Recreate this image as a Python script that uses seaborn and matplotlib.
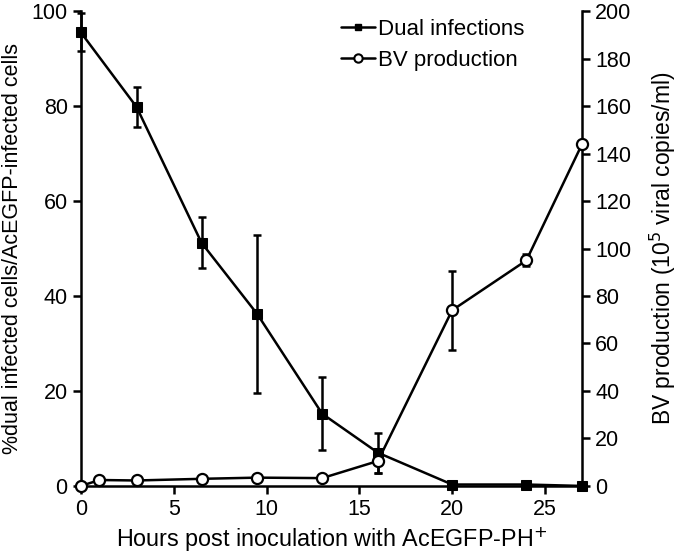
import numpy as np
import pandas as pd
import matplotlib
matplotlib.use("Agg")
import matplotlib.pyplot as plt
from matplotlib.lines import Line2D
import seaborn as sns

# data
hours = [0, 3, 6.5, 9.5, 13, 16, 20, 24, 27]
dual_pct = [95.5, 79.8, 51.2, 36.2, 15.2, 7.0, 0.3, 0.3, 0.0]
dual_err = [4.0, 4.2, 5.4, 16.6, 7.7, 4.2, 0.0, 0.0, 0.0]

bv_hours = [0, 1, 3, 6.5, 9.5, 13, 16, 20, 24, 27]
bv_copies = [0.0, 2.5, 2.3, 3.0, 3.5, 3.3, 10.5, 74.0, 95.0, 144.0]
bv_err = [0.0, 0.0, 0.0, 0.0, 0.0, 0.0, 5.0, 16.7, 2.5, 0.0]

sns.set_theme(style="ticks")
plt.rcParams['font.family'] = ['Liberation Sans', 'DejaVu Sans']
plt.rcParams['font.size'] = 15.5
plt.rcParams['axes.labelcolor'] = 'black'
plt.rcParams['text.color'] = 'black'
fs = 15.5

fig = plt.figure(figsize=(6.8, 5.56), dpi=100)
ax = fig.add_axes([0.119, 0.126, 0.737, 0.854])
ax2 = ax.twinx()

dual_df = pd.DataFrame({'h': hours, 'v': dual_pct})
bv_df = pd.DataFrame({'h': bv_hours, 'v': bv_copies})

ax.errorbar(hours, dual_pct, yerr=dual_err, fmt='none', ecolor='black',
            elinewidth=1.8, capsize=3, capthick=1.8, clip_on=False, zorder=3)
sns.lineplot(data=dual_df, x='h', y='v', ax=ax, color='black', lw=1.8,
             marker='s', markersize=7, markeredgecolor='black',
             clip_on=False, zorder=4, legend=False)

ax2.errorbar(bv_hours, bv_copies, yerr=bv_err, fmt='none', ecolor='black',
             elinewidth=1.8, capsize=3, capthick=1.8, clip_on=False, zorder=3)
sns.lineplot(data=bv_df, x='h', y='v', ax=ax2, color='black', lw=1.8,
             marker='o', markersize=8, markerfacecolor='white',
             markeredgecolor='black', markeredgewidth=1.6,
             clip_on=False, zorder=4, legend=False)

ax.set_xlim(0, 27)
ax.set_ylim(0, 100)
ax2.set_ylim(0, 200)
ax.set_xticks([0, 5, 10, 15, 20, 25])
ax.set_yticks([0, 20, 40, 60, 80, 100])
ax2.set_yticks(np.arange(0, 201, 20))

ax.set_xlabel('Hours post inoculation with AcEGFP-PH$^{+}$', fontsize=16.8, labelpad=4)
ax.set_ylabel('%dual infected cells/AcEGFP-infected cells', fontsize=fs, labelpad=6)
ax2.set_ylabel('BV production (10$^{5}$ viral copies/ml)', fontsize=16.5, labelpad=12)

for a in (ax, ax2):
    a.spines['top'].set_visible(False)
    for s in a.spines.values():
        s.set_linewidth(1.8)
        s.set_color('black')
    a.tick_params(direction='out', length=6, width=1.8, colors='black',
                  labelsize=fs)
ax.spines['right'].set_visible(False)
ax2.spines['left'].set_visible(False)
ax2.spines['bottom'].set_visible(False)

handles = [
    Line2D([], [], color='black', lw=1.8, marker='s', markersize=5),
    Line2D([], [], color='black', lw=1.8, marker='o', markersize=6,
           markerfacecolor='white', markeredgewidth=1.5),
]
ax2.legend(handles, ['Dual infections', 'BV production'], loc='upper left',
           bbox_to_anchor=(0.48, 1.025), frameon=False, handlelength=1.5,
           handletextpad=0.15, labelspacing=0.45, fontsize=16)

fig.savefig('out.png', dpi=100)
